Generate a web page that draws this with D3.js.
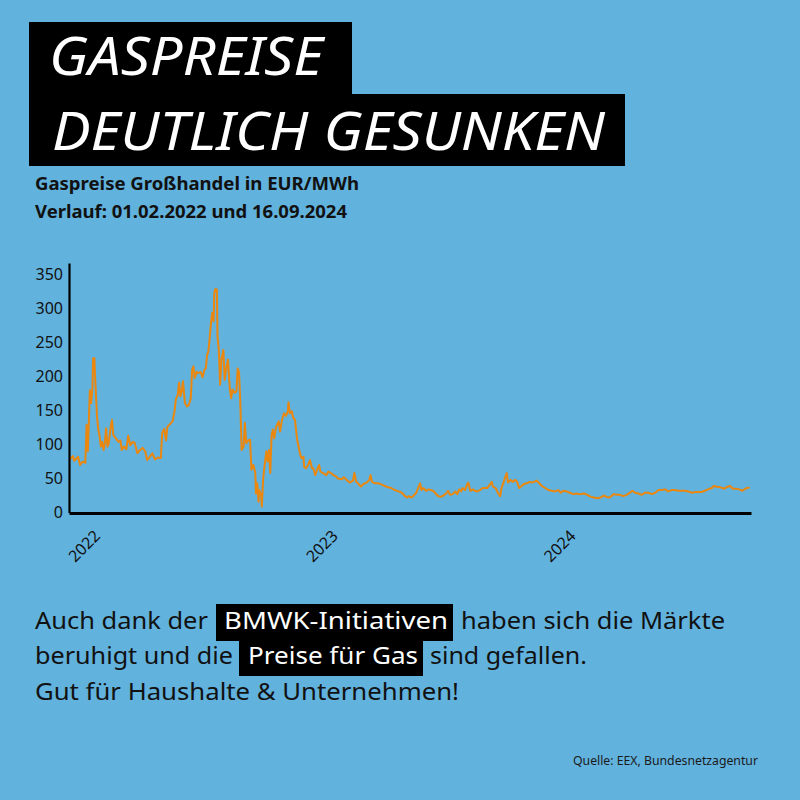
<!DOCTYPE html>
<html lang="de">
<head>
<meta charset="utf-8">
<script src="https://cdn.jsdelivr.net/npm/d3@7"></script>
<style>
  body { margin: 0; background: #62b2de; }
  svg { display: block; font-family: "Noto Sans", sans-serif; }
</style>
</head>
<body>
<div id="main"></div>
<script>
// price series (EUR/MWh)
const dates = [
  "2021-11-16","2021-11-21","2021-11-23","2021-11-29","2021-12-02","2021-12-06","2021-12-10","2021-12-12","2021-12-14","2021-12-17",
  "2021-12-19","2021-12-21","2021-12-22","2021-12-24","2021-12-25","2021-12-28","2021-12-30","2022-01-01","2022-01-03","2022-01-05",
  "2022-01-07","2022-01-09","2022-01-11","2022-01-13","2022-01-15","2022-01-18","2022-01-20","2022-01-22","2022-01-26","2022-01-30",
  "2022-02-02","2022-02-04","2022-02-07","2022-02-11","2022-02-14","2022-02-17","2022-02-21","2022-02-24","2022-02-28","2022-03-04",
  "2022-03-08","2022-03-12","2022-03-15","2022-03-19","2022-03-23","2022-03-27","2022-04-01","2022-04-05","2022-04-07","2022-04-10",
  "2022-04-13","2022-04-15","2022-04-19","2022-04-23","2022-04-26","2022-04-28","2022-05-01","2022-05-03","2022-05-05","2022-05-07",
  "2022-05-09","2022-05-12","2022-05-15","2022-05-18","2022-05-21","2022-05-23","2022-05-25","2022-05-27","2022-05-30","2022-06-01",
  "2022-06-05","2022-06-08","2022-06-11","2022-06-13","2022-06-15","2022-06-17","2022-06-19","2022-06-21","2022-06-23","2022-06-25",
  "2022-06-26","2022-06-28","2022-06-30","2022-07-01","2022-07-03","2022-07-05","2022-07-07","2022-07-10","2022-07-12","2022-07-15",
  "2022-07-17","2022-07-20","2022-07-22","2022-07-24","2022-07-27","2022-07-30","2022-08-01","2022-08-03","2022-08-05","2022-08-07",
  "2022-08-10","2022-08-12","2022-08-14","2022-08-17","2022-08-20","2022-08-22","2022-08-25","2022-08-28","2022-08-29","2022-08-31",
  "2022-09-02","2022-09-03","2022-09-06","2022-09-07","2022-09-09","2022-09-11","2022-09-14","2022-09-16","2022-09-18","2022-09-20",
  "2022-09-22","2022-09-24","2022-09-26","2022-09-29","2022-10-03","2022-10-05","2022-10-08","2022-10-11","2022-10-14","2022-10-17",
  "2022-10-18","2022-10-20","2022-10-23","2022-10-25","2022-10-28","2022-10-31","2022-11-02","2022-11-05","2022-11-07","2022-11-10",
  "2022-11-11","2022-11-14","2022-11-17","2022-11-20","2022-11-23","2022-11-25","2022-11-28","2022-12-01","2022-12-04","2022-12-06",
  "2022-12-10","2022-12-15","2022-12-18","2022-12-22","2022-12-26","2022-12-30","2023-01-02","2023-01-08","2023-01-11","2023-01-15",
  "2023-01-20","2023-01-25","2023-01-27","2023-01-30","2023-02-02","2023-02-06","2023-02-10","2023-02-15","2023-02-19","2023-02-21",
  "2023-02-23","2023-02-28","2023-03-05","2023-03-10","2023-03-15","2023-03-20","2023-03-25","2023-03-30","2023-04-05","2023-04-10",
  "2023-04-15","2023-04-18","2023-04-21","2023-04-25","2023-04-29","2023-05-02","2023-05-05","2023-05-08","2023-05-10","2023-05-13",
  "2023-05-17","2023-05-21","2023-05-24","2023-05-28","2023-06-01","2023-06-05","2023-06-09","2023-06-13","2023-06-17","2023-06-20",
  "2023-06-23","2023-06-27","2023-07-01","2023-07-04","2023-07-07","2023-07-10","2023-07-12","2023-07-16","2023-07-19","2023-07-21",
  "2023-07-24","2023-07-28","2023-07-31","2023-08-04","2023-08-08","2023-08-12","2023-08-16","2023-08-19","2023-08-23","2023-08-26",
  "2023-08-28","2023-09-01","2023-09-05","2023-09-08","2023-09-10","2023-09-13","2023-09-15","2023-09-18","2023-09-20","2023-09-24",
  "2023-09-27","2023-10-01","2023-10-04","2023-10-07","2023-10-11","2023-10-14","2023-10-19","2023-10-23","2023-10-26","2023-10-30",
  "2023-11-03","2023-11-07","2023-11-11","2023-11-16","2023-11-21","2023-11-26","2023-12-01","2023-12-06","2023-12-10","2023-12-14",
  "2023-12-19","2023-12-24","2023-12-29","2024-01-03","2024-01-08","2024-01-15","2024-01-20","2024-01-25","2024-01-30","2024-02-04",
  "2024-02-09","2024-02-14","2024-02-18","2024-02-23","2024-02-29","2024-03-05","2024-03-10","2024-03-15","2024-03-20","2024-03-25",
  "2024-03-29","2024-04-02","2024-04-07","2024-04-12","2024-04-17","2024-04-22","2024-04-28","2024-05-03","2024-05-08","2024-05-13",
  "2024-05-18","2024-05-23","2024-05-28","2024-06-02","2024-06-07","2024-06-13","2024-06-18","2024-06-23","2024-06-28","2024-07-03",
  "2024-07-08","2024-07-13","2024-07-18","2024-07-23","2024-07-29","2024-08-01","2024-08-06","2024-08-11","2024-08-17","2024-08-22",
  "2024-08-26","2024-08-30","2024-09-04","2024-09-09","2024-09-14","2024-09-18","2024-09-21","2024-09-25"
];
const prices = [
  78,83,76,82,70,75,73,129,90,180,
  161,185,227,227,200,141,122,112,97,104,
  92,102,124,97,102,126,136,114,109,104,
  106,92,97,93,113,99,104,102,87,92,
  95,90,77,82,87,78,81,80,117,123,
  106,126,130,134,149,166,173,191,171,178,
  193,161,156,158,168,210,215,198,207,205,
  207,199,210,212,232,237,257,279,294,281,
  323,329,328,259,239,188,225,239,195,215,
  225,181,168,181,176,178,212,207,161,92,
  97,132,102,106,107,63,70,58,28,43,
  16,33,26,9,48,67,90,75,92,58,
  114,122,109,126,134,119,136,146,142,149,
  162,146,149,140,136,109,99,85,80,82,
  67,65,70,77,65,65,55,63,70,60,
  58,55,60,58,55,53,50,49,52,48,
  44,47,58,45,43,38,42,44,48,55,
  45,43,43,41,39,37,36,33,31,29,
  24,22,24,22,26,29,36,43,33,36,
  32,34,33,32,28,24,23,25,28,32,
  26,27,31,27,34,31,36,33,41,44,
  32,34,32,31,33,36,36,36,41,45,
  38,36,28,24,36,44,50,58,44,48,
  45,48,45,36,39,42,43,45,44,45,
  47,43,39,36,33,32,31,33,29,32,
  31,29,27,28,27,28,26,23,22,21,
  22,25,23,22,27,26,26,24,26,29,
  32,29,28,26,29,29,27,29,33,33,
  34,31,33,33,32,32,32,31,29,30,
  30,30,32,34,36,39,38,37,35,38,
  39,35,35,34,32,35,36,37
];

const yTicks = [0, 50, 100, 150, 200, 250, 300, 350];
const yearTicks = ["2022-01-01", "2023-01-01", "2024-01-01"];
const xStart = "2021-11-15";
const xEnd = "2024-09-27";

const titleLines = ["GASPREISE", "DEUTLICH GESUNKEN"];
const subtitleLines = ["Gaspreise Großhandel in EUR/MWh", "Verlauf: 01.02.2022 und 16.09.2024"];
const source = "Quelle: EEX, Bundesnetzagentur";

const width = 800;
const height = 800;
const parse = d3.timeParse("%Y-%m-%d");

const svg = d3.select("#main")
  .append("svg")
  .attr("width", width)
  .attr("height", height);

svg.append("rect").attr("width", width).attr("height", height).attr("fill", "#62b2de");

// title blocks
svg.append("rect").attr("x", 29).attr("y", 22).attr("width", 323).attr("height", 74).attr("fill", "#000");
svg.append("rect").attr("x", 29).attr("y", 94).attr("width", 596).attr("height", 72).attr("fill", "#000");

svg.append("text")
  .attr("x", 49).attr("y", 75)
  .attr("textLength", 274).attr("lengthAdjust", "spacingAndGlyphs")
  .style("font-size", "52px").style("font-style", "italic")
  .attr("fill", "#fff")
  .text(titleLines[0]);
svg.append("text")
  .attr("x", 52).attr("y", 150)
  .attr("textLength", 553).attr("lengthAdjust", "spacingAndGlyphs")
  .style("font-size", "52px").style("font-style", "italic")
  .attr("fill", "#fff")
  .text(titleLines[1]);

//subtitle
svg.append("text")
  .attr("x", 35).attr("y", 190)
  .attr("textLength", 324).attr("lengthAdjust", "spacingAndGlyphs")
  .style("font-size", "18px").style("font-weight", "bold")
  .attr("fill", "#111")
  .text(subtitleLines[0]);
svg.append("text")
  .attr("x", 35).attr("y", 218)
  .attr("textLength", 312).attr("lengthAdjust", "spacingAndGlyphs")
  .style("font-size", "18px").style("font-weight", "bold")
  .attr("fill", "#111")
  .text(subtitleLines[1]);

// scales
const xScale = d3.scaleTime()
  .domain([parse(xStart), parse(xEnd)])
  .range([69, 751]);
const yScale = d3.scaleLinear()
  .domain([0, 367])
  .range([512.5, 263]);

const series = dates.map((d, i) => ({ date: parse(d), value: prices[i] }));

const line = d3.line()
  .x(d => xScale(d.date))
  .y(d => yScale(d.value));

svg.append("path")
  .datum(series)
  .attr("fill", "none")
  .attr("stroke", "#ea870f")
  .attr("stroke-width", 2)
  .attr("stroke-linejoin", "round")
  .attr("d", line);

// axes
const yAxis = d3.axisLeft(yScale).tickValues(yTicks).tickSize(0).tickPadding(6);
const yG = svg.append("g").attr("transform", "translate(69,0)").call(yAxis);
yG.select(".domain").attr("stroke", "#000").attr("stroke-width", 2.2);
yG.selectAll("text").style("font-size", "16px").style("font-family", "Noto Sans").attr("fill", "#111");

const xAxis = d3.axisBottom(xScale)
  .tickValues(yearTicks.map(parse))
  .tickFormat(d3.timeFormat("%Y"))
  .tickSize(0);
const xG = svg.append("g").attr("transform", "translate(0,513)").call(xAxis);
xG.select(".domain").attr("stroke", "#000").attr("stroke-width", 3);
xG.selectAll("text")
  .attr("x", 0).attr("y", 0).attr("dy", 0)
  .attr("text-anchor", "end")
  .attr("transform", "translate(1,24) rotate(-45)")
  .style("font-size", "16px").style("font-family", "Noto Sans")
  .attr("fill", "#111");

// closing message with highlighted words
const msg = svg.append("g").style("font-size", "23px").attr("fill", "#111");
msg.append("rect").attr("x", 216).attr("y", 604).attr("width", 237).attr("height", 37).attr("fill", "#000");
msg.append("rect").attr("x", 239).attr("y", 641).attr("width", 184).attr("height", 35).attr("fill", "#000");

const pieces = [
  { t: "Auch dank der", x: 35, y: 629, w: 173, c: "#111" },
  { t: "BMWK-Initiativen", x: 224, y: 629, w: 224, c: "#fff" },
  { t: "haben sich die Märkte", x: 461, y: 629, w: 264, c: "#111" },
  { t: "beruhigt und die", x: 35, y: 664, w: 198, c: "#111" },
  { t: "Preise für Gas", x: 248, y: 664, w: 170, c: "#fff" },
  { t: "sind gefallen.", x: 430, y: 664, w: 157, c: "#111" },
  { t: "Gut für Haushalte & Unternehmen!", x: 35, y: 700, w: 424, c: "#111" }
];
msg.selectAll("text.piece").data(pieces).enter().append("text")
  .attr("class", "piece")
  .attr("x", d => d.x).attr("y", d => d.y)
  .attr("textLength", d => d.w).attr("lengthAdjust", "spacingAndGlyphs")
  .attr("fill", d => d.c)
  .text(d => d.t);

svg.append("text")
  .attr("x", 573).attr("y", 765)
  .attr("textLength", 185).attr("lengthAdjust", "spacingAndGlyphs")
  .style("font-size", "13px")
  .attr("fill", "#1a1a1a")
  .text(source);
</script>
</body>
</html>
